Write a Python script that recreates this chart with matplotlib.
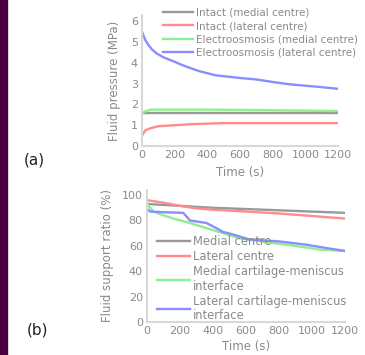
import numpy as np
import matplotlib.pyplot as plt
from matplotlib.patches import Rectangle

# (a) fluid pressure
t_blue_a = [0, 20, 40, 60, 90, 130, 200, 250, 350, 450, 600, 700, 800, 900, 1000, 1100, 1200]
p_blue_a = [5.5, 5.1, 4.85, 4.65, 4.45, 4.27, 4.05, 3.88, 3.6, 3.4, 3.27, 3.2, 3.08, 2.97, 2.9, 2.83, 2.75]
t_green_a = [0, 50, 400, 800, 1200]
p_green_a = [1.6, 1.75, 1.75, 1.72, 1.68]
t_gray_a = [0, 1200]
p_gray_a = [1.6, 1.6]
t_red_a = [0, 20, 50, 100, 200, 300, 500, 1200]
p_red_a = [0.5, 0.75, 0.85, 0.95, 1.0, 1.05, 1.1, 1.1]
labels_a = ['Intact (medial centre)', 'Intact (lateral centre)',
            'Electroosmosis (medial centre)', 'Electroosmosis (lateral centre)']

# (b) fluid support ratio
t_gray_b = [0, 200, 400, 600, 800, 1000, 1200]
r_gray_b = [93, 91.5, 90, 89, 88, 87, 86]
t_red_b = [0, 100, 200, 300, 400, 600, 800, 1000, 1200]
r_red_b = [96, 94, 91.5, 89.5, 88.5, 87, 85.5, 83.5, 81.5]
t_green_b = [0, 40, 100, 160, 260, 360, 460, 560, 720, 870, 1050, 1200]
r_green_b = [93, 87, 84, 81.5, 78, 74, 70, 66, 63, 60.5, 57, 56]
t_blue_b = [0, 20, 100, 220, 260, 360, 420, 460, 520, 620, 800, 960, 1100, 1200]
r_blue_b = [89, 87, 86.5, 86, 80, 78, 74, 71, 69, 65, 63.5, 61, 58, 56]
labels_b = ['Medial centre', 'Lateral centre',
            'Medial cartilage-meniscus\ninterface', 'Lateral cartilage-meniscus\ninterface']

xticks = [0, 200, 400, 600, 800, 1000, 1200]
GRAY, RED, GREEN, BLUE = '#999999', '#ff8c8c', '#8cf08c', '#8c8cff'
TXT = '#8a8a8a'
FS_TICK = 8
FS_LAB = 8.5
LW = 1.7

fig = plt.figure(figsize=(3.65, 3.55), dpi=100)

# purple strip on the left
fig.patches.append(Rectangle((0, 0), 7 / 365, 1, transform=fig.transFigure,
                             color='#4a0040', zorder=0))


def style(ax):
    for s in ['top', 'right']:
        ax.spines[s].set_visible(False)
    for s in ['left', 'bottom']:
        ax.spines[s].set_color('#d8d8d8')
        ax.spines[s].set_linewidth(1.5)
    ax.tick_params(length=0, labelsize=FS_TICK, labelcolor=TXT, pad=3)
    ax.set_xlim(0, 1200)
    ax.set_xticks(xticks)


ax1 = fig.add_axes([142 / 365, 1 - 146 / 355, 196 / 365, 131 / 355])
style(ax1)
ax1.plot(t_gray_a, p_gray_a, color=GRAY, lw=LW, label=labels_a[0])
ax1.plot(t_red_a, p_red_a, color=RED, lw=LW, label=labels_a[1])
ax1.plot(t_green_a, p_green_a, color=GREEN, lw=LW, label=labels_a[2])
ax1.plot(t_blue_a, p_blue_a, color=BLUE, lw=LW, label=labels_a[3])
ax1.set_ylim(0, 6.3)
ax1.set_yticks([0, 1, 2, 3, 4, 5, 6])
ax1.set_xlabel('Time (s)', fontsize=FS_LAB, color=TXT, labelpad=4)
ax1.set_ylabel('Fluid pressure (MPa)', fontsize=FS_LAB, color=TXT, labelpad=7)
ax1.legend(loc='upper left', bbox_to_anchor=(0.06, 1.125), frameon=False,
           fontsize=7.5, handlelength=2.9, labelspacing=0.3, handletextpad=0.3,
           labelcolor=TXT)

ax2 = fig.add_axes([147 / 365, 1 - 322 / 355, 198 / 365, 132 / 355])
style(ax2)
ax2.plot(t_gray_b, r_gray_b, color=GRAY, lw=LW, label=labels_b[0])
ax2.plot(t_red_b, r_red_b, color=RED, lw=LW, label=labels_b[1])
ax2.plot(t_green_b, r_green_b, color=GREEN, lw=LW, label=labels_b[2])
ax2.plot(t_blue_b, r_blue_b, color=BLUE, lw=LW, label=labels_b[3])
ax2.set_ylim(0, 104)
ax2.set_yticks([0, 20, 40, 60, 80, 100])
ax2.set_xlabel('Time (s)', fontsize=FS_LAB, color=TXT, labelpad=3)
ax2.set_ylabel('Fluid support ratio (%)', fontsize=FS_LAB, color=TXT, labelpad=6)
leg2 = ax2.legend(loc='lower left', bbox_to_anchor=(0.0, -0.08), frameon=False,
                  fontsize=8.3, handlelength=2.8, labelspacing=0.17, handletextpad=0.25,
                  labelcolor=TXT)
for t in leg2.get_texts():
    t.set_linespacing(1.15)

fig.text(24 / 365, 1 - 160 / 355, '(a)', fontsize=11, color='#222222', va='center')
fig.text(27 / 365, 1 - 330 / 355, '(b)', fontsize=11, color='#222222', va='center')

fig.savefig('out.png', dpi=100)
